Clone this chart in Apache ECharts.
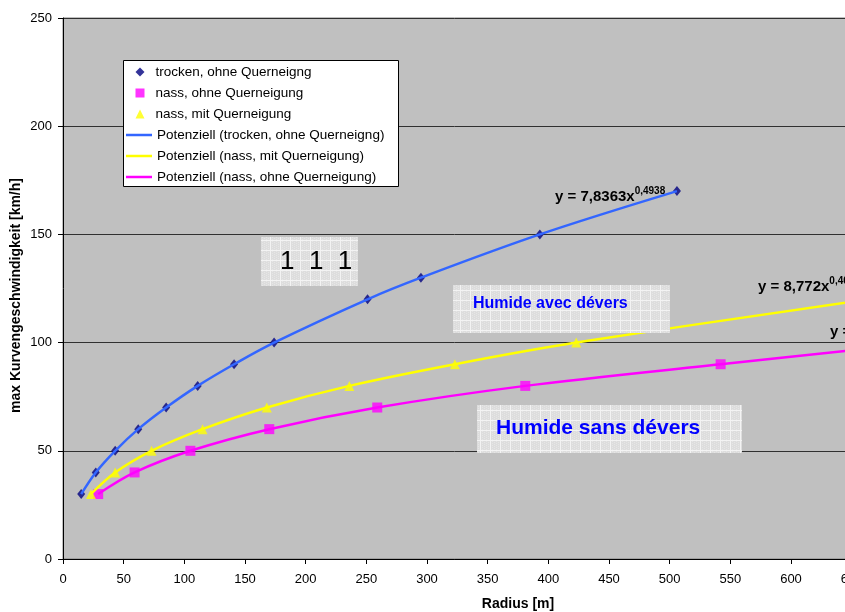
<!DOCTYPE html>
<html>
<head>
<meta charset="utf-8">
<script src="https://cdn.jsdelivr.net/npm/echarts@6/dist/echarts.min.js"></script>
<style>html,body{margin:0;padding:0;background:#fff}#c{width:845px;height:612px}</style>
</head>
<body>
<div id="c"></div>
<script>
// ---- data ----
var trockenX = [15, 27, 43, 62, 85, 111, 141, 174, 251, 295, 393, 506];
var trockenY = [30, 40, 50, 60, 70, 80, 90, 100, 120, 130, 150, 170];
var nassOhneX = [29, 59, 105, 170, 259, 381, 542];
var nassOhneY = [30, 40, 50, 60, 70, 80, 90];
var nassMitX = [23, 43, 73, 115, 168, 236, 323, 423];
var nassMitY = [30, 40, 50, 60, 70, 80, 90, 100];
// trend lines continue past the visible right edge
var nassMitTrendEnd = [655, 119.3];
var nassOhneTrendEnd = [655, 96.8];
var seriesNames = ['trocken, ohne Querneigng', 'nass, ohne Querneigung', 'nass, mit Querneigung',
  'Potenziell (trocken, ohne Querneigng)', 'Potenziell (nass, mit Querneigung)', 'Potenziell (nass, ohne Querneigung)'];
var xTicks = {min: 0, max: 750, interval: 50};
var yTicks = {min: 0, max: 250, interval: 50};

function pairs(xs, ys) { return xs.map(function (x, i) { return [x, ys[i]]; }); }
var trocken = pairs(trockenX, trockenY);
var nassOhne = pairs(nassOhneX, nassOhneY);
var nassMit = pairs(nassMitX, nassMitY);

// pattern for text boxes
var pc = document.createElement('canvas');
pc.width = 10; pc.height = 10;
var g = pc.getContext('2d');
g.fillStyle = '#dddddd'; g.fillRect(0, 0, 10, 10);
g.fillStyle = '#e6e6e6';
for (var i = 0; i < 10; i += 2) for (var j = (i / 2) % 2; j < 10; j += 2) g.fillRect(i, j, 1, 1);
g.fillStyle = '#f3f3f3'; g.fillRect(0, 0, 10, 1); g.fillRect(0, 0, 1, 10);
var pat = {image: pc, repeat: 'repeat'};

var FONT = 'Arial, "Liberation Sans", sans-serif';
var chart = echarts.init(document.getElementById('c'), null, {renderer: 'canvas'});
var lineCommon = {type: 'line', showSymbol: false, symbol: 'none', smooth: 0.35, z: 5, silent: true};
var legText = {fontFamily: FONT, fontSize: 13.5, color: '#000', lineHeight: 14};
var eqRich = {
  a: {font: 'bold 15px ' + FONT, lineHeight: 18, verticalAlign: 'bottom'},
  b: {font: 'bold 10px ' + FONT, verticalAlign: 'top', lineHeight: 18, padding: [0, 0, 7, 0]}
};
chart.setOption({
  animation: false,
  backgroundColor: '#ffffff',
  textStyle: {fontFamily: FONT},
  grid: {left: 63, top: 18, right: -128, bottom: 53, outerBoundsMode: 'none', containLabel: false,
    show: true, backgroundColor: '#c0c0c0', borderColor: '#808080', borderWidth: 1},
  xAxis: {
    type: 'value', min: xTicks.min, max: xTicks.max, interval: xTicks.interval,
    name: 'Radius [m]', nameLocation: 'middle', nameGap: 38, nameMoveOverlap: false,
    nameTextStyle: {fontFamily: FONT, fontWeight: 'bold', fontSize: 14, color: '#000'},
    axisLine: {show: true, lineStyle: {color: '#000', width: 1}},
    axisTick: {show: true, length: 5, lineStyle: {color: '#000'}},
    axisLabel: {fontFamily: FONT, fontSize: 13, color: '#000', margin: 14, hideOverlap: false},
    splitLine: {show: false}
  },
  yAxis: {
    type: 'value', min: yTicks.min, max: yTicks.max, interval: yTicks.interval,
    name: 'max Kurvengeschwindigkeit [km/h]', nameLocation: 'middle', nameGap: 40, nameRotate: 90, nameMoveOverlap: false,
    nameTextStyle: {fontFamily: FONT, fontWeight: 'bold', fontSize: 14, color: '#000', padding: [0, 14, 0, 0]},
    axisLine: {show: true, lineStyle: {color: '#000', width: 1}},
    axisTick: {show: true, length: 5, lineStyle: {color: '#000'}},
    axisLabel: {fontFamily: FONT, fontSize: 13, color: '#000', margin: 11},
    splitLine: {show: true, lineStyle: {color: '#303030', width: 1}}
  },
  legend: [{
    orient: 'vertical', left: 135.5, top: 65, padding: 0, z: 6,
    itemGap: 7, itemWidth: 9, itemHeight: 9,
    textStyle: Object.assign({padding: [0, 0, 0, 6]}, legText),
    data: [
      {name: seriesNames[0], icon: 'diamond'},
      {name: seriesNames[1], icon: 'rect'},
      {name: seriesNames[2], icon: 'triangle'}
    ]
  }, {
    orient: 'vertical', left: 126, top: 128, padding: 0, z: 6,
    itemGap: 7, itemWidth: 26, itemHeight: 2.5,
    textStyle: legText,
    data: [
      {name: seriesNames[3], icon: 'rect'},
      {name: seriesNames[4], icon: 'rect'},
      {name: seriesNames[5], icon: 'rect'}
    ]
  }],
  series: [
    {type: 'scatter', name: seriesNames[0], data: trocken, symbol: 'diamond', symbolSize: [8, 10], itemStyle: {color: '#000080'}, z: 3},
    {type: 'scatter', name: seriesNames[1], data: nassOhne, symbol: 'rect', symbolSize: 10, itemStyle: {color: '#ff00ff'}, z: 3},
    {type: 'scatter', name: seriesNames[2], data: nassMit, symbol: 'triangle', symbolSize: 10, itemStyle: {color: '#ffff00'}, z: 3},
    Object.assign({}, lineCommon, {name: seriesNames[3], data: trocken, lineStyle: {color: '#3366ff', width: 2.5}, itemStyle: {color: '#3366ff'}}),
    Object.assign({}, lineCommon, {name: seriesNames[4], data: nassMit.concat([nassMitTrendEnd]), lineStyle: {color: '#ffff00', width: 2.5}, itemStyle: {color: '#ffff00'}}),
    Object.assign({}, lineCommon, {name: seriesNames[5], data: nassOhne.concat([nassOhneTrendEnd]), lineStyle: {color: '#ff00ff', width: 2.5}, itemStyle: {color: '#ff00ff'}})
  ],
  graphic: [
    {type: 'rect', shape: {x: 123.5, y: 60.5, width: 275, height: 126}, style: {fill: '#ffffff', stroke: '#000', lineWidth: 1}, z: 3},
    {type: 'rect', shape: {x: 261, y: 237, width: 97, height: 49}, style: {fill: pat}, z: 10},
    {type: 'text', x: 280, y: 262, style: {text: '1  1  1', font: '26px ' + FONT, fill: '#000', verticalAlign: 'middle'}, z: 11},
    {type: 'rect', shape: {x: 453, y: 285, width: 217, height: 48}, style: {fill: pat}, z: 10},
    {type: 'text', x: 473, y: 304, style: {text: 'Humide avec dévers', font: 'bold 16px ' + FONT, fill: '#0000ff', verticalAlign: 'middle'}, z: 11},
    {type: 'rect', shape: {x: 477, y: 405, width: 265, height: 48}, style: {fill: pat}, z: 10},
    {type: 'text', x: 496, y: 428, style: {text: 'Humide sans dévers', font: 'bold 21px ' + FONT, fill: '#0000ff', verticalAlign: 'middle'}, z: 11},
    {type: 'text', x: 555, y: 186, z: 11, style: {text: '{a|y = 7,8363x}{b|0,4938}', fill: '#000', rich: eqRich}},
    {type: 'text', x: 758, y: 276, z: 11, style: {text: '{a|y = 8,772x}{b|0,4025}', fill: '#000', rich: eqRich}},
    {type: 'text', x: 830, y: 321, z: 11, style: {text: '{a|y = 8,71x}{b|0,371}', fill: '#000', rich: eqRich}}
  ]
});
</script>
</body>
</html>
